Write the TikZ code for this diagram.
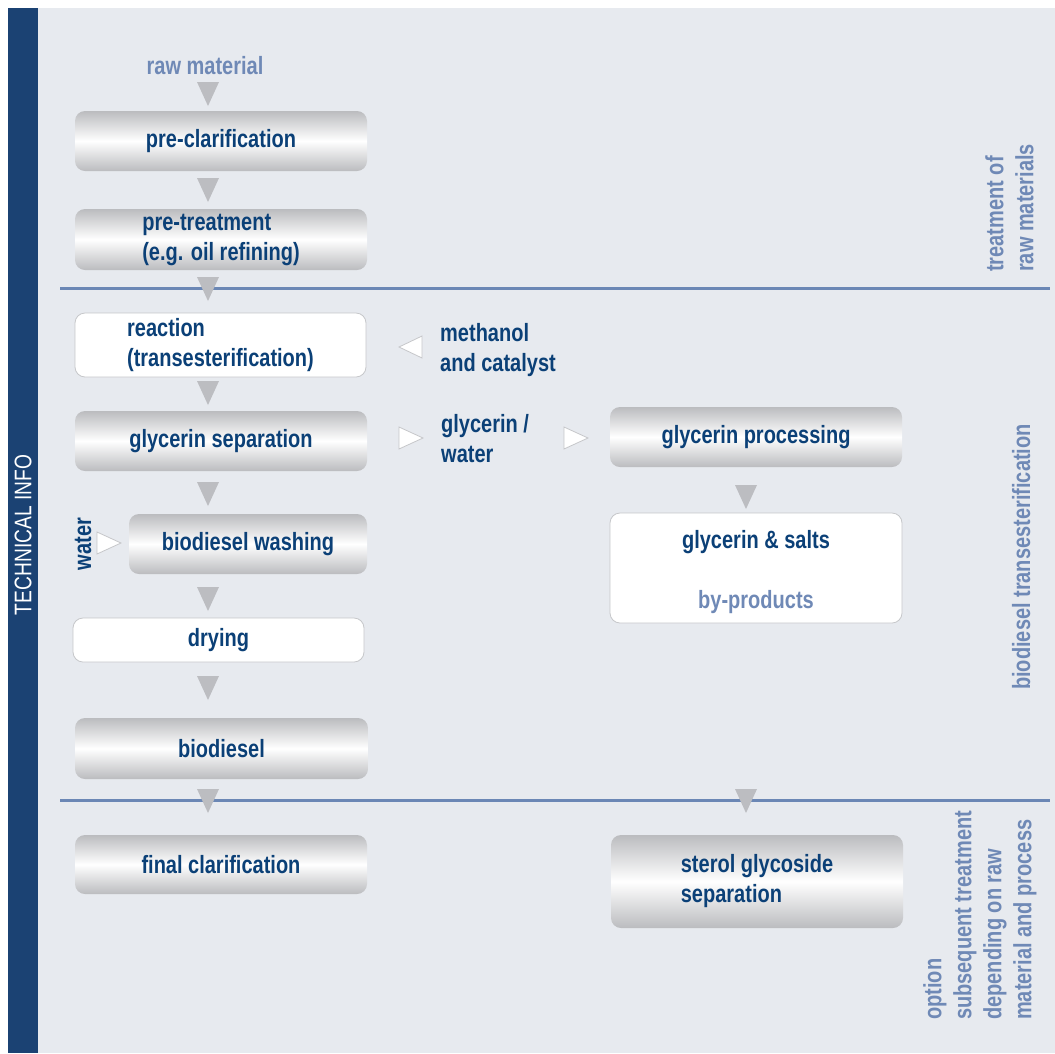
\documentclass[tikz,border=0pt]{standalone}
\usepackage{fontspec}
\setmainfont{Liberation Sans}[FakeStretch=0.8]
\usepackage{tikz}
\usetikzlibrary{arrows,shapes}

\definecolor{pagebg}{HTML}{E7EAEF}
\definecolor{barblue}{HTML}{1B4273}
\definecolor{textnavy}{HTML}{0B4077}
\definecolor{textlight}{HTML}{6F89B6}
\definecolor{rulecol}{HTML}{6B87B5}
\definecolor{arrowgray}{HTML}{BCBDC1}
\definecolor{boxgray}{HTML}{BBBCBF}
\definecolor{boxedge}{HTML}{C6C7CA}

\newcommand\flowfont{\bfseries\fontsize{25}{30}\selectfont}

\begin{document}
\begin{tikzpicture}[x=1pt,y=-1pt,
   shadebox/.style={rounded corners=10pt,top color=boxgray,bottom color=boxgray,
      middle color=white,minimum width=292pt,minimum height=60pt,
      font=\flowfont,text=textnavy,align=left,inner sep=0pt},
   whitebox/.style={shadebox,top color=white,bottom color=white,middle color=white,
      draw=boxedge,line width=0.8pt},
   flowtext/.style={font=\flowfont,text=textnavy,align=left,inner sep=0pt},
   sidelabel/.style={font=\flowfont,text=textlight,align=left,inner sep=0pt,rotate=90}]

   \useasboundingbox (0,0) rectangle (1055,1053);
   \fill[white] (0,0) rectangle (1055,1053);
   \fill[pagebg] (8,8) rectangle (1055,1053);
   \fill[barblue] (8,8) rectangle (38,1053);
   \node[rotate=90,text=white,font=\fontsize{24}{28}\selectfont] (info) at (23,535) {TECHNICAL INFO};

   % section rules
   \draw[rulecol,line width=3pt] (60,288) -- (1050,288);
   \draw[rulecol,line width=3pt] (60,800) -- (1050,800);

   % main column
   \node[flowtext,text=textlight] (raw) at (205,66) {raw material};
   \node[shadebox] (preclar) at (221,141) {pre-clarification};
   \node[shadebox,minimum height=61pt] (pretreat) at (221,239.5) {pre-treatment\\(e.g. oil refining)};
   \node[whitebox,minimum width=291pt,minimum height=64pt] (reaction) at (220.5,345) {reaction\\(transesterification)};
   \node[shadebox] (glysep) at (221,441) {glycerin separation};
   \node[shadebox,minimum width=238pt] (washing) at (248,544) {biodiesel washing};
   \node[whitebox,minimum width=291pt,minimum height=44pt] (drying) at (218.5,640) {drying};
   \node[shadebox,minimum width=293pt,minimum height=61pt] (biodiesel) at (221.5,748.5) {biodiesel};
   \node[shadebox,minimum height=59pt] (finalclar) at (221,864.5) {final clarification};

   % side streams
   \node[flowtext,anchor=west] (methanol) at (440,350) {methanol\\and catalyst};
   \node[flowtext,anchor=west] (glywater) at (441,439) {glycerin /\\water};
   \node[flowtext,rotate=90] (water) at (83,544) {water};
   \node[shadebox] (glyproc) at (756,437) {glycerin processing};
   \node[whitebox,minimum height=110pt,align=center] (salts) at (756,568)
      {\rule{0pt}{27pt}glycerin \& salts\\[30pt]{\color{textlight}by-products}};
   \node[shadebox,minimum height=93pt] (sterol) at (757,881.5) {sterol glycoside\\separation};

   % section labels
   \node[sidelabel,anchor=north west] (lblraw) at (985,272) {treatment of\\raw materials};
   \node[sidelabel,anchor=base west] (lbltrans) at (1030,690) {biodiesel transesterification};
   \node[sidelabel,anchor=north west] (lbloption) at (923,1020)
      {option\\subsequent treatment\\depending on raw\\material and process};

   % grey flow triangles
   \foreach \x/\y [count=\i] in {208/82,208/178,208/277,208/381,208/482,208/587,
                                 208/676,208/789,746/485,746/789}
   {
      \path (\x,\y) coordinate (T\i);
      \fill[arrowgray] (T\i) ++(-11,0) -- ++(22,0) -- ++(-11,24) -- cycle;
   }

   % white feed triangles
   \foreach \x/\y [count=\i] in {399/438,564/438,97/543}
   {
      \path (\x,\y) coordinate (R\i);
      \filldraw[fill=white,draw=boxedge,line width=0.8pt]
         (R\i) ++(0,-11) -- ++(24,11) -- ++(-24,11) -- cycle;
   }
   \path (422,347) coordinate (L1);
   \filldraw[fill=white,draw=boxedge,line width=0.8pt]
      (L1) ++(0,-11) -- ++(-23,11) -- ++(23,11) -- cycle;
\end{tikzpicture}
\end{document}
